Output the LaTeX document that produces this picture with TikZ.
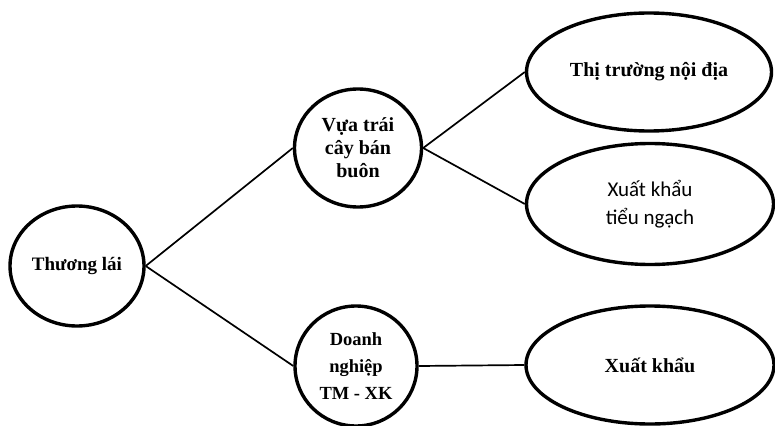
\documentclass[tikz,border=0pt]{standalone}
\usepackage{fontspec}
\setmainfont{Liberation Serif}
\newfontfamily\calfont{Carlito}
\usetikzlibrary{shapes.geometric}
\tikzset{
  bubble/.style={draw, line width=3.4pt, ellipse, inner sep=0pt, align=center,
    font=\bfseries\fontsize{19}{23}\selectfont},
  link/.style={draw, line width=1.7pt}
}
\begin{document}
\begin{tikzpicture}[x=1pt,y=-1pt]
\useasboundingbox (0,0) rectangle (775,425);
\node[bubble, minimum width=134pt, minimum height=120pt] (tl) at (77,266) {Thương lái};
\node[bubble, minimum width=127pt, minimum height=118pt, font=\bfseries\fontsize{20}{23}\selectfont] (vua) at (358,148) {Vựa trái\\cây bán\\buôn};
\node[bubble, minimum width=122pt, minimum height=120pt, font=\bfseries\fontsize{18.5}{27}\selectfont] (dn) at (356,366) {Doanh\\nghiệp\\TM - XK};
\node[bubble, minimum width=245pt, minimum height=118pt, font=\bfseries\fontsize{20}{23}\selectfont] (tt) at (649,72) {Thị trường nội địa};
\node[bubble, minimum width=247pt, minimum height=121pt, font=\calfont\fontsize{21}{28}\selectfont] (xktn) at (650,204) {Xuất khẩu\\tiểu ngạch};
\node[bubble, minimum width=248pt, minimum height=118pt, font=\bfseries\fontsize{20}{23}\selectfont] (xk) at (650,365) {Xuất khẩu};
\draw[link] (tl.east) -- (vua.west);
\draw[link] (tl.east) -- (dn.west);
\draw[link] (vua.east) -- (tt.west);
\draw[link] (vua.east) -- (xktn.west);
\draw[link] (dn.east) -- (xk.west);
\end{tikzpicture}
\end{document}
